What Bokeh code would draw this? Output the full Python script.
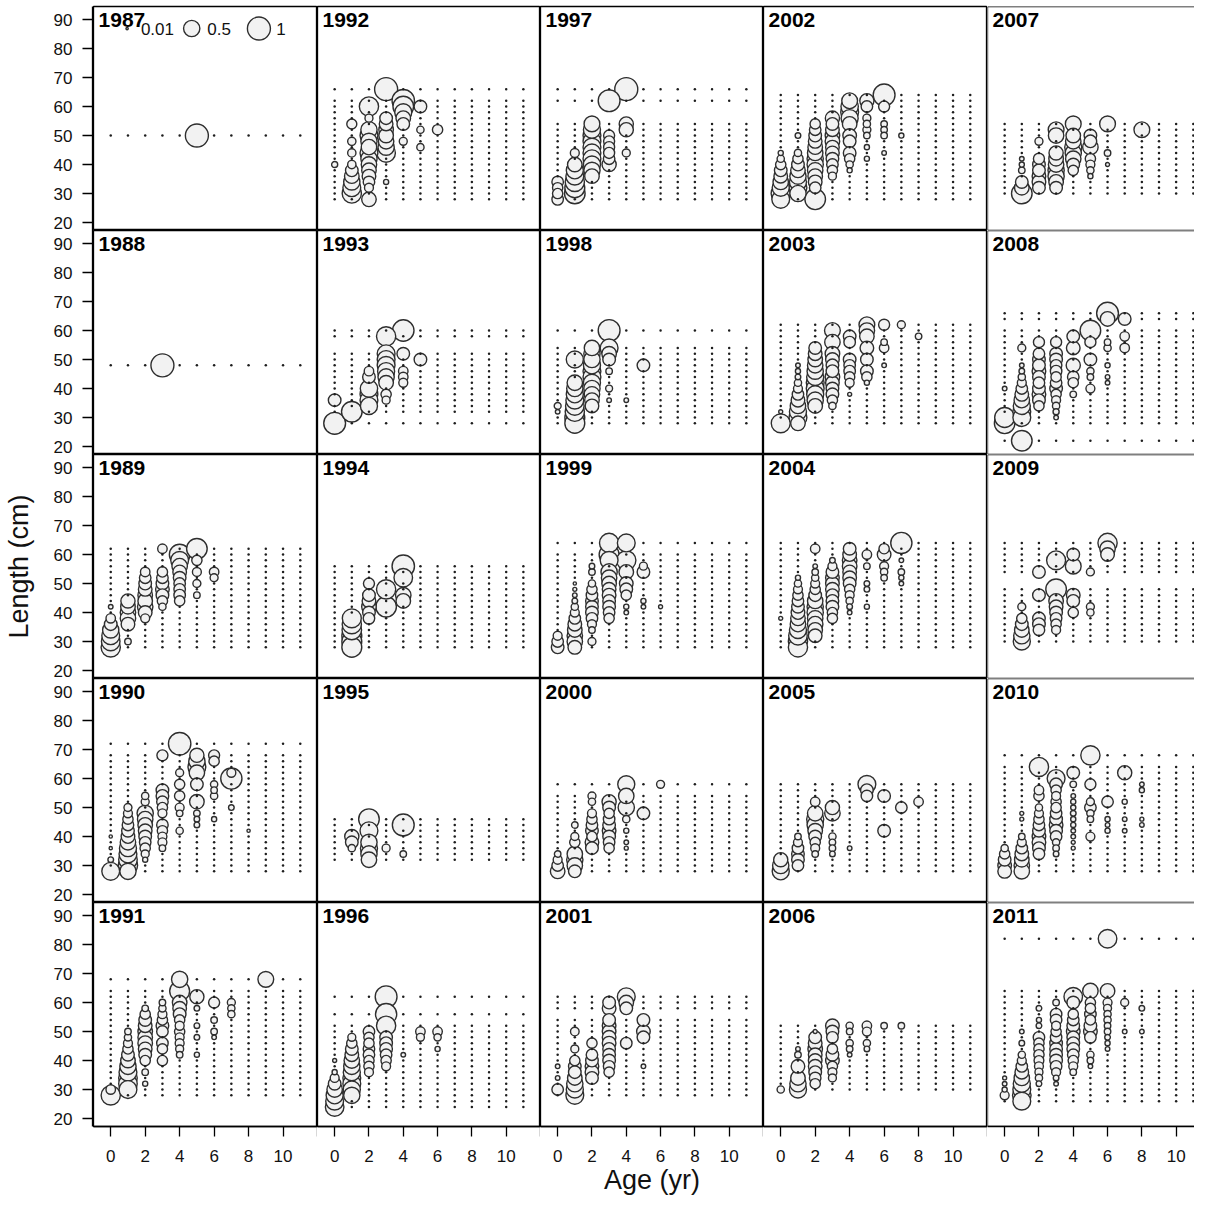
import math
from bokeh.plotting import figure
from bokeh.layouts import gridplot, row
from bokeh.models import FixedTicker, Span, Label, Range1d, ColumnDataSource
from bokeh.embed import file_html
from bokeh.resources import INLINE

# ---------------- data ----------------
AGES = [0, 1, 2, 3, 4, 5, 6, 7, 8, 9, 10, 11]
YEARS = list(range(1987, 2012))
Y_TICKS = [20, 30, 40, 50, 60, 70, 80, 90]
X_TICKS = [0, 2, 4, 6, 8, 10, 12]
LEGEND_P = [0.01, 0.5, 1.0]
LEGEND_TXT = ["0.01", "0.5", "1"]

# length bins with samples (dots drawn where proportion is zero); obs = (age, length, proportion)
bins_1987 = [50]
obs_1987 = [(5, 50, 1.0)]
bins_1988 = [48]
obs_1988 = [(3, 48, 1.0)]

bins_1989 = [62, 60, 58, 56, 54, 52, 50, 48, 46, 44, 42, 40, 38, 36, 34, 32, 30, 28]
obs_1989 = [(0, 42, .04), (0, 38, .17), (0, 36, .3), (0, 34, .5), (0, 32, .6), (0, 30, .65), (0, 28, .7),
            (1, 44, .38), (1, 42, .4), (1, 40, .45), (1, 38, .45), (1, 36, .35), (1, 30, .08),
            (2, 54, .17), (2, 52, .25), (2, 50, .3), (2, 48, .35), (2, 46, .4), (2, 44, .4), (2, 42, .45), (2, 40, .35), (2, 38, .15),
            (3, 62, .17), (3, 54, .2), (3, 52, .25), (3, 50, .3), (3, 48, .35), (3, 46, .3), (3, 44, .2), (3, 42, .1),
            (4, 60, .8), (4, 58, .6), (4, 56, .45), (4, 54, .35), (4, 52, .3), (4, 50, .25), (4, 48, .25), (4, 46, .25), (4, 44, .2),
            (5, 62, .8), (5, 58, .2), (5, 54, .15), (5, 50, .12), (5, 46, .08),
            (6, 54, .17), (6, 52, .12)]

bins_1990 = [72, 68, 66, 64, 62, 60, 58, 56, 54, 52, 50, 48, 46, 44, 42, 40, 38, 36, 34, 32, 30, 28]
obs_1990 = [(0, 40, .02), (0, 36, .02), (0, 32, .06), (0, 28, .6),
            (1, 50, .12), (1, 48, .15), (1, 46, .2), (1, 44, .25), (1, 42, .3), (1, 40, .35), (1, 38, .45), (1, 36, .55), (1, 34, .6), (1, 32, .65), (1, 30, .7), (1, 28, .5),
            (2, 54, .1), (2, 52, .12), (2, 48, .5), (2, 46, .45), (2, 44, .4), (2, 42, .35), (2, 40, .3), (2, 38, .25), (2, 36, .2), (2, 34, .12), (2, 32, .05),
            (3, 68, .23), (3, 56, .3), (3, 54, .3), (3, 52, .25), (3, 50, .2), (3, 48, .15), (3, 44, .25), (3, 42, .2), (3, 40, .15), (3, 38, .15), (3, 36, .08),
            (4, 72, .95), (4, 62, .12), (4, 58, .2), (4, 54, .2), (4, 50, .15), (4, 48, .08), (4, 42, .1),
            (5, 68, .38), (5, 66, .5), (5, 64, .6), (5, 62, .45), (5, 58, .3), (5, 52, .4), (5, 48, .08), (5, 46, .06), (5, 44, .06),
            (6, 68, .23), (6, 66, .2), (6, 58, .1), (6, 56, .08), (6, 54, .1), (6, 46, .05),
            (7, 62, .15), (7, 60, .85), (7, 50, .06),
            (8, 42, .02)]

bins_1991 = [68, 64, 62, 60, 58, 56, 54, 52, 50, 48, 46, 44, 42, 40, 38, 36, 34, 32, 30, 28]
obs_1991 = [(0, 30, .17), (0, 28, .7),
            (1, 50, .08), (1, 48, .1), (1, 46, .15), (1, 44, .2), (1, 42, .3), (1, 40, .4), (1, 38, .5), (1, 36, .6), (1, 34, .65), (1, 32, .65), (1, 30, .6),
            (2, 58, .08), (2, 56, .2), (2, 54, .3), (2, 52, .35), (2, 50, .4), (2, 48, .4), (2, 46, .4), (2, 44, .35), (2, 42, .3), (2, 40, .2), (2, 36, .08), (2, 32, .05),
            (3, 60, .08), (3, 58, .1), (3, 56, .15), (3, 54, .2), (3, 52, .3), (3, 50, .25), (3, 46, .25), (3, 44, .2), (3, 40, .2),
            (4, 68, .5), (4, 64, .75), (4, 60, .4), (4, 58, .35), (4, 56, .3), (4, 54, .2), (4, 52, .15), (4, 50, .2), (4, 48, .15), (4, 46, .15), (4, 44, .12), (4, 42, .08),
            (5, 62, .38), (5, 58, .06), (5, 52, .06), (5, 48, .06), (5, 42, .05),
            (6, 60, .23), (6, 54, .08), (6, 50, .08), (6, 48, .04),
            (7, 60, .12), (7, 58, .1), (7, 56, .1),
            (9, 68, .47)]

bins_1992 = [66, 62, 60, 58, 56, 54, 52, 50, 48, 46, 44, 42, 40, 38, 36, 34, 32, 30, 28]
obs_1992 = [(0, 40, .07),
            (1, 54, .19), (1, 48, .13), (1, 44, .13), (1, 40, .13), (1, 38, .3), (1, 36, .4), (1, 34, .5), (1, 32, .6), (1, 30, .7),
            (2, 60, .7), (2, 56, .12), (2, 52, .5), (2, 50, .6), (2, 48, .5), (2, 46, .45), (2, 44, .6), (2, 42, .5), (2, 40, .45), (2, 38, .4), (2, 36, .35), (2, 34, .25), (2, 32, .15), (2, 28, .4),
            (3, 66, 1.0), (3, 56, .3), (3, 54, .35), (3, 52, .4), (3, 50, .4), (3, 48, .45), (3, 46, .5), (3, 44, .65), (3, 34, .05),
            (4, 62, .95), (4, 60, .8), (4, 58, .55), (4, 56, .4), (4, 54, .3), (4, 48, .12),
            (5, 60, .3), (5, 52, .1), (5, 46, .1),
            (6, 52, .2)]

bins_1993 = [60, 58, 52, 50, 48, 46, 44, 42, 40, 38, 36, 34, 32, 28]
obs_1993 = [(0, 36, .3), (0, 28, .9),
            (1, 32, .8),
            (2, 46, .17), (2, 44, .3), (2, 40, .57), (2, 38, .6), (2, 36, .6), (2, 34, .55),
            (3, 58, .7), (3, 52, .6), (3, 50, .6), (3, 48, .6), (3, 46, .55), (3, 44, .5), (3, 42, .4), (3, 38, .2), (3, 36, .12),
            (4, 60, .87), (4, 52, .3), (4, 46, .17), (4, 44, .17), (4, 42, .15),
            (5, 50, .3)]

bins_1994 = [56, 54, 52, 50, 48, 46, 44, 42, 40, 38, 36, 34, 32, 30, 28]
obs_1994 = [(1, 38, .68), (1, 36, .7), (1, 34, .72), (1, 32, .75), (1, 30, .75), (1, 28, .75),
            (2, 50, .23), (2, 46, .3), (2, 44, .35), (2, 42, .4), (2, 40, .3), (2, 38, .25),
            (3, 48, .7), (3, 42, .8),
            (4, 56, .95), (4, 52, .65), (4, 46, .45), (4, 44, .4)]

bins_1995 = [46, 44, 42, 40, 38, 36, 34, 32]
obs_1995 = [(1, 40, .38), (1, 38, .3), (1, 36, .1),
            (2, 46, .8), (2, 42, .6), (2, 38, .5), (2, 36, .55), (2, 34, .5), (2, 32, .45),
            (3, 36, .12),
            (4, 44, .9), (4, 34, .08)]

bins_1996 = [62, 56, 52, 50, 48, 46, 44, 42, 40, 38, 36, 34, 32, 30, 28, 26, 24]
obs_1996 = [(0, 40, .03), (0, 36, .05), (0, 34, .15), (0, 32, .3), (0, 30, .45), (0, 28, .55), (0, 26, .6), (0, 24, .65),
            (1, 48, .12), (1, 46, .2), (1, 44, .3), (1, 42, .35), (1, 40, .45), (1, 38, .5), (1, 36, .55), (1, 34, .6), (1, 32, .6), (1, 30, .55), (1, 28, .5),
            (2, 50, .25), (2, 48, .2), (2, 46, .2), (2, 44, .25), (2, 42, .25), (2, 40, .2), (2, 38, .2), (2, 36, .15),
            (3, 62, .9), (3, 56, .85), (3, 52, .7), (3, 48, .3), (3, 46, .3), (3, 44, .3), (3, 42, .25), (3, 40, .2), (3, 38, .15),
            (4, 42, .04),
            (5, 50, .17), (5, 48, .12),
            (6, 50, .17), (6, 48, .1), (6, 44, .05)]

bins_1997 = [66, 62, 54, 52, 50, 48, 46, 44, 42, 40, 38, 36, 34, 32, 30, 28]
obs_1997 = [(0, 34, .25), (0, 32, .2), (0, 30, .2), (0, 28, .25),
            (1, 44, .15), (1, 40, .4), (1, 38, .55), (1, 36, .6), (1, 34, .7), (1, 32, .75), (1, 30, .8),
            (2, 54, .47), (2, 52, .55), (2, 50, .6), (2, 48, .6), (2, 46, .6), (2, 44, .6), (2, 42, .6), (2, 40, .55), (2, 38, .5), (2, 36, .4),
            (3, 62, .9), (3, 50, .23), (3, 48, .23), (3, 46, .23), (3, 44, .23), (3, 42, .25), (3, 40, .38),
            (4, 66, 1.0), (4, 54, .38), (4, 52, .38), (4, 44, .12)]

bins_1998 = [60, 54, 52, 50, 48, 46, 44, 42, 40, 38, 36, 34, 32, 30, 28]
obs_1998 = [(0, 34, .09), (0, 32, .04),
            (1, 50, .55), (1, 42, .45), (1, 40, .5), (1, 38, .55), (1, 36, .6), (1, 34, .65), (1, 32, .7), (1, 30, .75), (1, 28, .75),
            (2, 54, .45), (2, 52, .5), (2, 50, .5), (2, 48, .55), (2, 46, .6), (2, 44, .6), (2, 42, .55), (2, 40, .5), (2, 38, .45), (2, 36, .4), (2, 34, .35),
            (3, 60, .9), (3, 54, .6), (3, 52, .4), (3, 50, .3), (3, 46, .08), (3, 40, .09), (3, 36, .04),
            (4, 36, .04),
            (5, 48, .3)]

bins_1999 = [64, 60, 58, 56, 54, 52, 50, 48, 46, 44, 42, 40, 38, 36, 34, 32, 30, 28]
obs_1999 = [(0, 32, .15), (0, 30, .25), (0, 28, .3),
            (1, 50, .02), (1, 48, .03), (1, 46, .04), (1, 44, .06), (1, 42, .1), (1, 40, .15), (1, 38, .25), (1, 36, .35), (1, 34, .4), (1, 32, .45), (1, 30, .45), (1, 28, .35),
            (2, 56, .06), (2, 54, .08), (2, 50, .1), (2, 48, .2), (2, 46, .25), (2, 44, .3), (2, 42, .3), (2, 40, .3), (2, 38, .25), (2, 36, .15), (2, 34, .08), (2, 30, .12),
            (3, 64, .7), (3, 60, .75), (3, 58, .6), (3, 54, .5), (3, 52, .45), (3, 50, .4), (3, 48, .35), (3, 46, .35), (3, 44, .3), (3, 42, .3), (3, 40, .25), (3, 38, .2),
            (4, 64, .6), (4, 58, .7), (4, 54, .4), (4, 50, .35), (4, 48, .3), (4, 46, .2), (4, 42, .05), (4, 40, .04),
            (5, 56, .12), (5, 54, .3), (5, 44, .05), (5, 42, .04),
            (6, 42, .03)]

bins_2000 = [58, 54, 52, 50, 48, 46, 44, 42, 40, 38, 36, 34, 32, 30, 28]
obs_2000 = [(0, 34, .08), (0, 32, .15), (0, 30, .25), (0, 28, .4),
            (1, 44, .08), (1, 40, .12), (1, 38, .2), (1, 34, .45), (1, 32, .5), (1, 30, .45), (1, 28, .3),
            (2, 54, .12), (2, 52, .1), (2, 48, .15), (2, 46, .2), (2, 44, .25), (2, 42, .3), (2, 40, .2), (2, 38, .35), (2, 36, .3),
            (3, 52, .38), (3, 50, .3), (3, 48, .2), (3, 46, .25), (3, 44, .3), (3, 42, .35), (3, 40, .3), (3, 38, .25), (3, 36, .2),
            (4, 58, .55), (4, 54, .45), (4, 50, .5), (4, 46, .1), (4, 42, .05), (4, 38, .04), (4, 36, .03),
            (5, 48, .3),
            (6, 58, .12)]

bins_2001 = [62, 60, 58, 54, 52, 50, 48, 46, 44, 42, 40, 38, 36, 34, 32, 30, 28]
obs_2001 = [(0, 38, .04), (0, 34, .04), (0, 30, .25),
            (1, 50, .14), (1, 44, .12), (1, 40, .2), (1, 38, .3), (1, 36, .3), (1, 34, .4), (1, 32, .5), (1, 30, .55), (1, 28, .6),
            (2, 46, .2), (2, 42, .25), (2, 40, .3), (2, 38, .35), (2, 36, .35), (2, 34, .3),
            (3, 60, .3), (3, 58, .35), (3, 54, .3), (3, 52, .35), (3, 50, .35), (3, 48, .35), (3, 46, .35), (3, 44, .3), (3, 42, .3), (3, 40, .3), (3, 38, .25), (3, 36, .2),
            (4, 62, .6), (4, 60, .4), (4, 58, .3), (4, 46, .25),
            (5, 54, .3), (5, 50, .35), (5, 48, .3), (5, 38, .04)]

bins_2002 = [64, 62, 60, 58, 56, 54, 52, 50, 48, 46, 44, 42, 40, 38, 36, 34, 32, 30, 28]
obs_2002 = [(0, 44, .05), (0, 42, .1), (0, 40, .2), (0, 38, .3), (0, 36, .35), (0, 34, .45), (0, 32, .55), (0, 30, .7), (0, 28, .6),
            (1, 50, .06), (1, 44, .1), (1, 42, .2), (1, 40, .3), (1, 38, .4), (1, 36, .5), (1, 34, .55), (1, 32, .6), (1, 30, .5),
            (2, 54, .2), (2, 52, .25), (2, 50, .3), (2, 48, .35), (2, 46, .4), (2, 44, .45), (2, 42, .5), (2, 40, .5), (2, 38, .45), (2, 36, .4), (2, 34, .35), (2, 32, .25), (2, 28, .8),
            (3, 56, .38), (3, 54, .3), (3, 52, .35), (3, 50, .4), (3, 48, .4), (3, 46, .35), (3, 44, .35), (3, 42, .3), (3, 40, .25), (3, 38, .2), (3, 36, .12),
            (4, 62, .47), (4, 60, .57), (4, 58, .6), (4, 56, .55), (4, 54, .4), (4, 50, .35), (4, 48, .3), (4, 44, .3), (4, 42, .2), (4, 40, .1), (4, 38, .05),
            (5, 62, .38), (5, 60, .25), (5, 56, .12), (5, 54, .1), (5, 52, .12), (5, 50, .08), (5, 46, .05), (5, 42, .05),
            (6, 64, .9), (6, 60, .23), (6, 54, .08), (6, 52, .08), (6, 50, .08), (6, 44, .04),
            (7, 50, .05)]

bins_2003 = [62, 60, 58, 56, 54, 52, 50, 48, 46, 44, 42, 40, 38, 36, 34, 32, 30, 28]
obs_2003 = [(0, 32, .03), (0, 28, .68),
            (1, 48, .04), (1, 46, .05), (1, 44, .06), (1, 42, .1), (1, 40, .15), (1, 38, .25), (1, 36, .35), (1, 34, .45), (1, 32, .55), (1, 30, .6), (1, 28, .4),
            (2, 54, .3), (2, 52, .35), (2, 50, .4), (2, 48, .45), (2, 46, .5), (2, 44, .55), (2, 42, .6), (2, 40, .6), (2, 38, .55), (2, 36, .5), (2, 34, .4),
            (3, 60, .47), (3, 56, .45), (3, 52, .4), (3, 50, .35), (3, 48, .3), (3, 46, .3), (3, 44, .4), (3, 42, .35), (3, 40, .3), (3, 38, .3), (3, 36, .2), (3, 34, .1),
            (4, 58, .3), (4, 56, .25), (4, 50, .3), (4, 48, .25), (4, 46, .25), (4, 44, .2), (4, 42, .15), (4, 38, .03),
            (5, 62, .47), (5, 60, .45), (5, 58, .4), (5, 54, .35), (5, 50, .3), (5, 46, .3), (5, 44, .2), (5, 42, .05),
            (6, 62, .23), (6, 56, .08), (6, 54, .17), (6, 48, .04),
            (7, 62, .12),
            (8, 58, .08)]

bins_2004 = [64, 62, 60, 58, 56, 54, 52, 50, 48, 46, 44, 42, 40, 38, 36, 34, 32, 30, 28]
obs_2004 = [(0, 38, .03),
            (1, 52, .05), (1, 50, .1), (1, 48, .15), (1, 46, .2), (1, 44, .25), (1, 42, .3), (1, 40, .35), (1, 38, .4), (1, 36, .45), (1, 34, .55), (1, 32, .65), (1, 30, .7), (1, 28, .7),
            (2, 62, .17), (2, 56, .04), (2, 54, .08), (2, 52, .1), (2, 50, .15), (2, 48, .2), (2, 46, .3), (2, 44, .45), (2, 42, .5), (2, 40, .5), (2, 38, .45), (2, 36, .45), (2, 34, .4), (2, 32, .35),
            (3, 58, .06), (3, 56, .15), (3, 54, .3), (3, 52, .35), (3, 50, .35), (3, 48, .35), (3, 46, .3), (3, 44, .3), (3, 42, .3), (3, 40, .2), (3, 38, .2),
            (4, 62, .3), (4, 60, .35), (4, 58, .4), (4, 56, .4), (4, 54, .35), (4, 52, .35), (4, 50, .3), (4, 48, .2), (4, 46, .15), (4, 44, .1), (4, 42, .06), (4, 40, .04),
            (5, 60, .17), (5, 56, .08), (5, 50, .06), (5, 48, .06), (5, 42, .05),
            (6, 62, .2), (6, 60, .35), (6, 56, .15), (6, 54, .1), (6, 52, .08),
            (7, 64, .85), (7, 58, .04), (7, 54, .08), (7, 52, .05), (7, 50, .04)]

bins_2005 = [58, 56, 54, 52, 50, 48, 46, 44, 42, 40, 38, 36, 34, 32, 30, 28]
obs_2005 = [(0, 32, .38), (0, 30, .5), (0, 28, .55),
            (1, 40, .08), (1, 38, .15), (1, 36, .25), (1, 34, .3), (1, 32, .3), (1, 30, .25),
            (2, 52, .17), (2, 48, .45), (2, 46, .55), (2, 44, .5), (2, 42, .4), (2, 40, .3), (2, 38, .2), (2, 36, .15), (2, 34, .08),
            (3, 50, .38), (3, 48, .45), (3, 40, .1), (3, 38, .08), (3, 36, .08), (3, 34, .06),
            (4, 36, .04),
            (5, 58, .6), (5, 56, .3), (5, 54, .25),
            (6, 54, .3), (6, 42, .3),
            (7, 50, .25),
            (8, 52, .17)]

bins_2006 = [52, 50, 48, 46, 44, 42, 40, 38, 36, 34, 32, 30]
obs_2006 = [(0, 30, .1),
            (1, 44, .04), (1, 42, .08), (1, 38, .35), (1, 34, .4), (1, 32, .5), (1, 30, .55),
            (2, 50, .03), (2, 48, .3), (2, 46, .35), (2, 44, .4), (2, 42, .35), (2, 40, .35), (2, 38, .35), (2, 36, .3), (2, 34, .25), (2, 32, .2),
            (3, 52, .35), (3, 50, .3), (3, 48, .25), (3, 44, .2), (3, 42, .3), (3, 40, .35), (3, 38, .2), (3, 36, .15), (3, 34, .12),
            (4, 52, .1), (4, 50, .08), (4, 46, .1), (4, 44, .08), (4, 42, .04),
            (5, 52, .17), (5, 50, .15), (5, 46, .1), (5, 44, .06),
            (6, 52, .08),
            (7, 52, .08)]

bins_2007 = [54, 52, 50, 48, 46, 44, 42, 40, 38, 36, 34, 32, 30]
obs_2007 = [(1, 42, .04), (1, 40, .05), (1, 38, .08), (1, 34, .3), (1, 32, .4), (1, 30, .8),
            (2, 48, .12), (2, 42, .23), (2, 40, .3), (2, 38, .3), (2, 36, .35), (2, 34, .35), (2, 32, .3),
            (3, 52, .47), (3, 50, .45), (3, 44, .38), (3, 42, .4), (3, 40, .45), (3, 38, .5), (3, 36, .5), (3, 34, .4), (3, 32, .3),
            (4, 54, .47), (4, 50, .4), (4, 48, .45), (4, 46, .55), (4, 44, .5), (4, 42, .45), (4, 40, .3), (4, 38, .2),
            (5, 50, .3), (5, 48, .3), (5, 46, .45), (5, 42, .2), (5, 40, .15), (5, 38, .1), (5, 36, .05),
            (6, 54, .47), (6, 44, .08), (6, 40, .03),
            (8, 52, .47)]

bins_2008 = [66, 64, 60, 58, 56, 54, 52, 50, 48, 46, 44, 42, 40, 38, 36, 34, 32, 30, 28, 22]
obs_2008 = [(0, 40, .04), (0, 30, .75), (0, 28, .8),
            (1, 54, .12), (1, 48, .04), (1, 46, .06), (1, 44, .1), (1, 42, .15), (1, 40, .25), (1, 38, .35), (1, 36, .45), (1, 34, .55), (1, 32, .6), (1, 30, .6), (1, 22, .8),
            (2, 56, .23), (2, 52, .25), (2, 50, .3), (2, 48, .3), (2, 46, .35), (2, 44, .3), (2, 42, .25), (2, 40, .3), (2, 38, .35), (2, 36, .3), (2, 34, .2),
            (3, 56, .23), (3, 52, .3), (3, 50, .3), (3, 48, .25), (3, 46, .25), (3, 44, .2), (3, 42, .25), (3, 40, .3), (3, 38, .2), (3, 36, .15), (3, 34, .1), (3, 32, .07), (3, 30, .04),
            (4, 58, .3), (4, 54, .35), (4, 48, .38), (4, 44, .25), (4, 42, .2), (4, 38, .08),
            (5, 60, .8), (5, 56, .23), (5, 50, .3), (5, 46, .1), (5, 44, .08), (5, 40, .15),
            (6, 66, .9), (6, 64, .4), (6, 56, .08), (6, 54, .1), (6, 48, .05), (6, 44, .04), (6, 42, .04),
            (7, 64, .3), (7, 58, .17), (7, 54, .17)]

bins_2009 = [64, 62, 60, 58, 56, 54, 48, 46, 44, 42, 40, 38, 36, 34, 32, 30]
obs_2009 = [(1, 42, .12), (1, 38, .2), (1, 36, .3), (1, 34, .4), (1, 32, .5), (1, 30, .55),
            (2, 54, .3), (2, 46, .3), (2, 38, .3), (2, 36, .3), (2, 34, .25),
            (3, 58, .68), (3, 48, .8), (3, 44, .4), (3, 42, .35), (3, 40, .3), (3, 38, .25), (3, 36, .2), (3, 34, .15),
            (4, 60, .3), (4, 56, .47), (4, 46, .35), (4, 44, .3), (4, 40, .2),
            (5, 54, .12), (5, 42, .12), (5, 40, .1),
            (6, 64, .7), (6, 62, .45), (6, 60, .35)]

bins_2010 = [68, 64, 62, 60, 58, 56, 54, 52, 50, 48, 46, 44, 42, 40, 38, 36, 34, 32, 30, 28]
obs_2010 = [(0, 36, .1), (0, 34, .2), (0, 32, .3), (0, 30, .35), (0, 28, .35),
            (1, 48, .03), (1, 46, .03), (1, 40, .08), (1, 38, .15), (1, 36, .25), (1, 34, .35), (1, 32, .4), (1, 30, .45), (1, 28, .45),
            (2, 64, .7), (2, 56, .17), (2, 54, .2), (2, 50, .1), (2, 48, .15), (2, 46, .2), (2, 44, .25), (2, 42, .3), (2, 40, .35), (2, 38, .35), (2, 36, .3), (2, 34, .25),
            (3, 60, .6), (3, 58, .3), (3, 56, .2), (3, 54, .15), (3, 52, .2), (3, 50, .2), (3, 48, .25), (3, 46, .3), (3, 44, .35), (3, 42, .3), (3, 40, .25), (3, 38, .1), (3, 36, .08), (3, 34, .06),
            (4, 62, .3), (4, 58, .08), (4, 54, .04), (4, 52, .05), (4, 50, .05), (4, 48, .06), (4, 46, .05), (4, 44, .05), (4, 42, .04), (4, 40, .04), (4, 38, .03), (4, 36, .03),
            (5, 68, .7), (5, 58, .23), (5, 52, .12), (5, 50, .25), (5, 48, .1), (5, 46, .08), (5, 40, .15),
            (6, 52, .25), (6, 46, .05), (6, 44, .04), (6, 42, .05),
            (7, 62, .38), (7, 52, .05), (7, 46, .04), (7, 42, .04),
            (8, 58, .04), (8, 56, .05), (8, 46, .03), (8, 44, .04)]

bins_2011 = [82, 64, 62, 60, 58, 56, 54, 52, 50, 48, 46, 44, 42, 40, 38, 36, 34, 32, 30, 28, 26]
obs_2011 = [(0, 34, .03), (0, 32, .04), (0, 30, .05), (0, 28, .15),
            (1, 50, .04), (1, 46, .06), (1, 42, .1), (1, 40, .15), (1, 38, .25), (1, 36, .35), (1, 34, .45), (1, 32, .55), (1, 30, .6), (1, 28, .65), (1, 26, .6),
            (2, 58, .06), (2, 54, .05), (2, 52, .06), (2, 48, .25), (2, 46, .2), (2, 44, .2), (2, 42, .2), (2, 40, .18), (2, 38, .15), (2, 36, .12), (2, 34, .1), (2, 32, .06),
            (3, 60, .08), (3, 56, .25), (3, 54, .25), (3, 52, .15), (3, 50, .2), (3, 48, .25), (3, 46, .3), (3, 44, .3), (3, 42, .3), (3, 40, .3), (3, 38, .25), (3, 36, .15), (3, 34, .06), (3, 32, .04),
            (4, 62, .65), (4, 60, .3), (4, 56, .2), (4, 54, .25), (4, 52, .3), (4, 50, .35), (4, 48, .3), (4, 46, .3), (4, 44, .3), (4, 42, .25), (4, 40, .2), (4, 38, .15), (4, 36, .08),
            (5, 64, .45), (5, 60, .2), (5, 58, .2), (5, 56, .25), (5, 54, .2), (5, 52, .3), (5, 50, .35), (5, 48, .25), (5, 42, .1), (5, 40, .08), (5, 38, .04),
            (6, 82, .65), (6, 64, .4), (6, 60, .15), (6, 58, .12), (6, 56, .1), (6, 54, .1), (6, 52, .08), (6, 50, .08), (6, 48, .06), (6, 46, .05), (6, 44, .04),
            (7, 60, .12), (7, 50, .04),
            (8, 58, .06), (8, 50, .04)]

BINS = {y: globals()["bins_%d" % y] for y in YEARS}
OBS = {y: globals()["obs_%d" % y] for y in YEARS}

# ---------------- styling / layout ----------------
FONT = "Liberation Sans"
FRAME_W = [224, 223, 223, 224, 207]
FRAME_H = 224
PX_AGE = 17.15
Y_LO, Y_HI = 17.25, 94.5
SPAN = Y_HI - Y_LO            # 77.25 data units per panel row
BUBBLE_D = 23.0
FILL = "#f2f2f2"
EDGE = "#2e2e2e"
TOP = 6
BOTTOM = 74


def style_axis(ax, ticks):
    ax.ticker = FixedTicker(ticks=ticks)
    ax.major_tick_out = 10
    ax.major_tick_in = 0
    ax.minor_tick_out = 0
    ax.minor_tick_in = 0
    ax.major_tick_line_color = "black"
    ax.major_tick_line_width = 1.3
    ax.axis_line_color = "black"
    ax.axis_line_width = 1.3
    ax.major_label_text_font = FONT
    ax.major_label_text_font_size = "17px"
    ax.major_label_text_color = "#111111"
    ax.major_label_standoff = 10
    ax.axis_label_text_font = FONT
    ax.axis_label_text_font_size = "27px"
    ax.axis_label_text_font_style = "normal"
    ax.axis_label_text_color = "#111111"


# shared left axis: one tall axis carrying the 20..90 scale of every panel row
ytick_pos, ytick_lab = [], {}
for k in range(5):
    for v in Y_TICKS:
        pos = (4 - k) * SPAN + v
        ytick_pos.append(pos)
        ytick_lab[pos] = str(v)
axis_fig = figure(frame_width=1, frame_height=5 * FRAME_H,
                  x_range=Range1d(0, 1), y_range=Range1d(Y_LO, Y_LO + 5 * SPAN),
                  output_backend="svg", toolbar_location=None,
                  x_axis_location=None, y_axis_location="left",
                  min_border=0, min_border_left=89, min_border_top=TOP,
                  min_border_bottom=BOTTOM,
                  background_fill_color="white", border_fill_color="white")
axis_fig.grid.visible = False
axis_fig.outline_line_color = None
yax = axis_fig.yaxis[0]
style_axis(yax, ytick_pos)
yax.major_label_overrides = ytick_lab
yax.axis_label = "Length (cm)"
yax.axis_label_standoff = 17

rows = []
for r in range(5):
    prow = []
    for c in range(5):
        yr = 1987 + 5 * c + r
        bins = BINS[yr]
        obs = OBS[yr]
        x_end = -1 + FRAME_W[c] / PX_AGE if c == 4 else 12
        p = figure(frame_width=FRAME_W[c], frame_height=FRAME_H,
                   x_range=Range1d(-1, x_end), y_range=Range1d(Y_LO, Y_HI),
                   output_backend="svg", toolbar_location=None,
                   x_axis_location="below" if r == 4 else None,
                   y_axis_location=None,
                   min_border=0,
                   min_border_top=TOP if r == 0 else 0,
                   min_border_bottom=BOTTOM if r == 4 else 0,
                   background_fill_color="white", border_fill_color="white")
        p.grid.visible = False
        if c < 4:
            p.outline_line_color = "black"
            p.outline_line_width = 1.3
        else:
            p.outline_line_color = None
            for loc, dim in [(Y_LO, "width"), (Y_HI, "width"), (-1, "height")]:
                p.add_layout(Span(location=loc, dimension=dim, line_color="black", line_width=1.3))

        if r == 4:
            ax = p.xaxis[0]
            style_axis(ax, X_TICKS)
            ax.major_label_standoff = 13
            ax.major_label_overrides = {12: ""}
            if c == 2:
                ax.axis_label = "Age (yr)"
                ax.axis_label_standoff = 0

        # bubbles (largest first so small ones remain visible)
        ob = sorted(obs, key=lambda t: -t[2])
        src = ColumnDataSource(dict(x=[o[0] for o in ob], y=[o[1] for o in ob],
                                    s=[BUBBLE_D * math.sqrt(o[2]) for o in ob]))
        p.scatter("x", "y", size="s", source=src, marker="circle",
                  fill_color=FILL, line_color=EDGE, line_width=1.4)

        # zero-proportion dots
        have = {(o[0], o[1]) for o in obs}
        dx, dy = [], []
        for L in bins:
            for a in AGES:
                if (a, L) not in have:
                    dx.append(a)
                    dy.append(L)
        p.scatter(dx, dy, size=2.5, marker="circle", fill_color="#1e1e1e", line_color=None)

        # year label
        p.add_layout(Label(x=-1 + 5 / PX_AGE, y=Y_HI - 7 / 2.9, text=str(yr),
                           text_font=FONT, text_font_style="bold", text_font_size="21px",
                           text_baseline="top", text_align="left", text_color="black"))

        # size legend in the first panel
        if yr == 1987:
            leg_x = [0.95, 4.7, 8.6]
            txt_x = [1.75, 5.6, 9.6]
            leg_y = 86.9
            p.scatter(leg_x, [leg_y] * 3, size=[BUBBLE_D * math.sqrt(v) for v in LEGEND_P],
                      marker="circle", fill_color=FILL, line_color=EDGE, line_width=1.4)
            for tx, t in zip(txt_x, LEGEND_TXT):
                p.add_layout(Label(x=tx, y=leg_y, text=t, text_font=FONT, text_font_size="17px",
                                   text_baseline="middle", text_align="left", text_color="#111111"))
        prow.append(p)
    rows.append(prow)

grid = gridplot(rows, toolbar_location=None)
layout = row(axis_fig, grid)
open("out.html", "w").write(file_html(layout, INLINE))
